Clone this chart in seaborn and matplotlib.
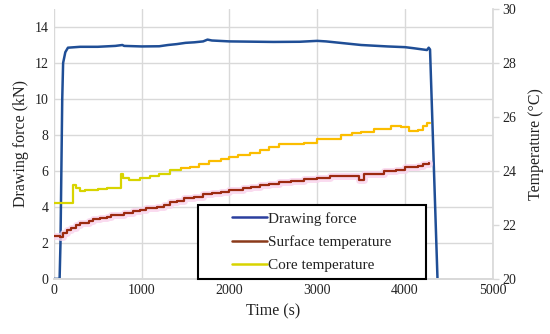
import matplotlib
matplotlib.use("Agg")
import matplotlib.pyplot as plt
from matplotlib.patches import Rectangle
import seaborn as sns
import pandas as pd

# Drawing force (kN) vs time (s)
force_time = [0, 65, 75, 85, 95, 105, 130, 160, 300, 500, 700, 780, 800, 1000, 1200,
              1300, 1400, 1500, 1600, 1700, 1750, 1800, 2000, 2500, 2800, 3000, 3100,
              3300, 3500, 3800, 4000, 4100, 4250, 4270, 4285, 4370]
force_kN = [0, 0, 2, 6, 10, 12, 12.6, 12.85, 12.9, 12.9, 12.95, 13.0, 12.95, 12.92, 12.93,
            13.0, 13.05, 13.12, 13.15, 13.2, 13.3, 13.25, 13.2, 13.17, 13.18, 13.23, 13.2,
            13.1, 13.0, 12.92, 12.88, 12.82, 12.72, 12.85, 12.75, 0]

# Surface temperature (°C), stepped
surf_time = [0, 70, 100, 150, 200, 250, 300, 400, 450, 520, 600, 650, 750, 800, 900, 980,
             1050, 1170, 1250, 1320, 1400, 1480, 1600, 1700, 1800, 1900, 2000, 2150, 2250,
             2350, 2450, 2570, 2700, 2850, 3000, 3150, 3300, 3480, 3530, 3650, 3760, 3900,
             4000, 4150, 4200, 4270]
surf_temp = [21.6, 21.55, 21.7, 21.8, 21.9, 22.0, 22.08, 22.15, 22.22, 22.27, 22.3, 22.35,
             22.38, 22.45, 22.5, 22.56, 22.62, 22.68, 22.75, 22.86, 22.9, 23.0, 23.05, 23.15,
             23.2, 23.22, 23.3, 23.35, 23.4, 23.48, 23.52, 23.58, 23.62, 23.7, 23.75, 23.8,
             23.82, 23.68, 23.87, 23.9, 24.0, 24.05, 24.15, 24.2, 24.25, 24.3]

# Core temperature (°C), stepped
core_time = [0, 216, 250, 300, 350, 450, 500, 600, 700, 760, 790, 850, 980, 1090, 1200, 1320,
             1450, 1545, 1650, 1770, 1900, 2000, 2100, 2230, 2350, 2450, 2570, 2700, 2850,
             3000, 3100, 3270, 3350, 3400, 3500, 3650, 3840, 3950, 4050, 4150, 4200, 4250, 4280]
core_temp = [22.83, 23.48, 23.35, 23.25, 23.3, 23.28, 23.32, 23.35, 23.38, 23.9, 23.72, 23.68,
             23.75, 23.8, 23.9, 24.05, 24.1, 24.16, 24.25, 24.35, 24.45, 24.53, 24.6, 24.68,
             24.78, 24.87, 24.98, 25.0, 25.05, 25.17, 25.2, 25.35, 25.32, 25.4, 25.46, 25.55,
             25.65, 25.62, 25.48, 25.5, 25.65, 25.76, 25.78]

labels = ["Drawing force", "Surface temperature", "Core temperature"]

force_df = pd.DataFrame({"time": force_time, "value": force_kN})
surf_df = pd.DataFrame({"time": surf_time, "value": surf_temp})
core_df = pd.DataFrame({"time": core_time, "value": core_temp})

sns.set_theme(style="white")
plt.rcParams["font.family"] = ["Liberation Serif", "DejaVu Serif"]

fig, ax = plt.subplots(figsize=(5.5, 3.34), dpi=100)
fig.subplots_adjust(left=0.098, right=0.896, bottom=0.165, top=0.973)
ax2 = ax.twinx()

grid_c = "#d9d9d9"
ax.set_xlim(0, 5000)
ax.set_ylim(0, 15)
ax2.set_ylim(20, 30)
ax.set_xticks(range(0, 5001, 1000))
ax.set_yticks(range(0, 15, 2))
ax2.set_yticks(range(20, 31, 2))
ax.grid(True, color=grid_c, lw=1)
ax.set_axisbelow(True)

# force on left axis
sns.lineplot(data=force_df, x="time", y="value", ax=ax, color="#1f4e96", lw=1.8,
             sort=False, estimator=None, legend=False)

# temperatures on right axis
sns.lineplot(data=surf_df, x="time", y="value", ax=ax2, color="#f9d3ec", lw=5, alpha=0.8,
             drawstyle="steps-post", sort=False, estimator=None, legend=False)
sns.lineplot(data=surf_df, x="time", y="value", ax=ax2, color="#9c2a10", lw=1.6,
             drawstyle="steps-post", sort=False, estimator=None, legend=False)
early = core_df[core_df["time"] <= 1450]
late = core_df[core_df["time"] >= 1450]
sns.lineplot(data=early, x="time", y="value", ax=ax2, color="#d8d400", lw=1.6,
             drawstyle="steps-post", sort=False, estimator=None, legend=False)
sns.lineplot(data=late, x="time", y="value", ax=ax2, color="#fbbd00", lw=1.6,
             drawstyle="steps-post", sort=False, estimator=None, legend=False)

for a in (ax, ax2):
    for s in ("top", "left"):
        a.spines[s].set_visible(False)
    a.spines["bottom"].set_color(grid_c)
    a.spines["right"].set_color(grid_c)
    a.set_xlabel("")
    a.set_ylabel("")
ax.spines["right"].set_visible(False)

ax.tick_params(axis="both", length=0, labelsize=10, colors="#222222", pad=4)
ax2.tick_params(axis="y", length=4, width=1, color=grid_c, labelsize=10,
                labelcolor="#222222", pad=3, direction="out")

ax.set_xlabel("Time (s)", fontsize=11.5, color="#222222", labelpad=4)
ax.set_ylabel("Drawing force (kN)", fontsize=11.5, color="#222222", labelpad=4)
ax2.set_ylabel("Temperature (°C)", fontsize=11.5, color="#222222", labelpad=8)

# legend box drawn separately so the entries can sit further right
box = Rectangle((0.328, 0.0), 0.519, 0.274, transform=ax2.transAxes, facecolor="white",
                edgecolor="black", lw=1.5, zorder=4, clip_on=False)
ax2.add_patch(box)
handles = [plt.Line2D([], [], color=c, lw=1.8) for c in ("#2b3f9e", "#8b3a1a", "#d8d400")]
leg = ax2.legend(handles, labels, loc="center left", bbox_to_anchor=(0.405, 0.137),
                 fontsize=11, frameon=False, handlelength=2.3, handletextpad=0.1,
                 labelspacing=0.62, borderpad=0, borderaxespad=0)
leg.set_zorder(5)
for t in leg.get_texts():
    t.set_color("#222222")

fig.savefig("out.png", dpi=100)
